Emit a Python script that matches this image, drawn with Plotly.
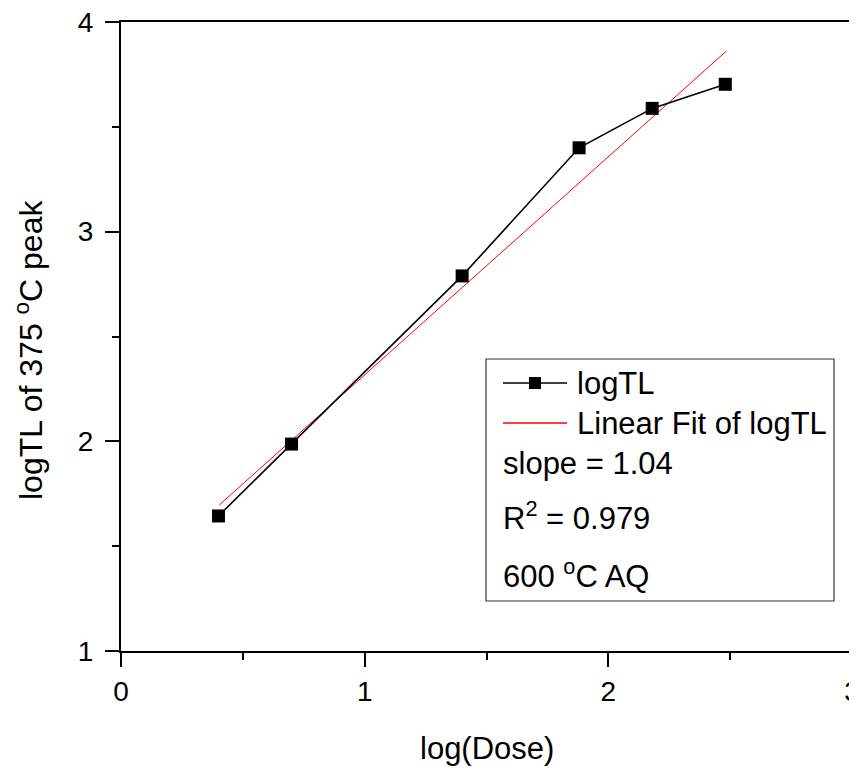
import plotly.graph_objects as go

# data
log_dose = [0.40, 0.70, 1.40, 1.88, 2.18, 2.48]
log_tl = [1.644, 1.987, 2.789, 3.40, 3.588, 3.703]
fit_x = [0.403, 2.486]
fit_y = [1.696, 3.863]
x_ticks = [0, 1, 2, 3]
y_ticks = [1, 2, 3, 4]
legend_series = ["logTL", "Linear Fit of logTL"]
legend_notes = ["slope = 1.04", "R<sup>2</sup> = 0.979", "600 <sup>o</sup>C AQ"]

OFF = 8  # page body margin
W, H = 857 - OFF, 771 - OFF
L, R, T, B = 121 - OFF, 852 - OFF, 22 - OFF, 651 - OFF
FONT = "Liberation Sans, Arial, sans-serif"


def px(xp):
    return (xp - OFF - L) / (R - L)


def py(yp):
    return (B - (yp - OFF)) / (B - T)


fig = go.Figure()
fig.add_trace(go.Scatter(
    x=fit_x, y=fit_y, mode="lines",
    line=dict(color="#ff0000", width=1), showlegend=False))
fig.add_trace(go.Scatter(
    x=log_dose, y=log_tl, mode="lines+markers",
    line=dict(color="black", width=1.6),
    marker=dict(symbol="square", size=13, color="black"),
    showlegend=False))

axis_common = dict(
    showline=True, linecolor="black", linewidth=2, mirror=True,
    ticks="outside", ticklen=14, tickwidth=2, tickcolor="black",
    showgrid=False, zeroline=False, automargin=False,
    ticklabeloverflow="allow",
    tickfont=dict(family=FONT, size=28, color="black"),
    minor=dict(ticks="outside", ticklen=7, tickwidth=2, tickcolor="black", dtick=0.5),
)

fig.update_layout(
    width=W, height=H,
    margin=dict(l=L, r=W - R, t=T, b=H - B, autoexpand=False),
    plot_bgcolor="white", paper_bgcolor="white",
    font=dict(family=FONT, color="black"),
    xaxis=dict(range=[0, 3], tickvals=x_ticks, ticktext=[str(v) for v in x_ticks], **axis_common),
    yaxis=dict(range=[1, 4], tickvals=y_ticks, ticktext=[str(v) for v in y_ticks],
               ticklabelstandoff=6, **axis_common),
)

# axis titles
fig.add_annotation(text="log(Dose)", xref="paper", yref="paper",
                   x=px(486.5), y=py(748), xanchor="center", yanchor="middle",
                   showarrow=False, font=dict(family=FONT, size=31))
fig.add_annotation(text="logTL of 375 <sup>o</sup>C peak", xref="paper", yref="paper",
                   x=px(29), y=py(350), xanchor="center", yanchor="middle", textangle=-90,
                   showarrow=False, font=dict(family=FONT, size=32))

# legend box
fig.add_shape(type="rect", xref="paper", yref="paper",
              x0=px(486), x1=px(834), y0=py(601), y1=py(359),
              line=dict(color="#333333", width=1.2), fillcolor="white", layer="above")
fig.add_shape(type="line", xref="paper", yref="paper",
              x0=px(503), x1=px(567), y0=py(383), y1=py(383),
              line=dict(color="black", width=1.5), layer="above")
fig.add_shape(type="rect", xref="paper", yref="paper",
              x0=px(529), x1=px(541), y0=py(389), y1=py(377),
              line=dict(color="black", width=0), fillcolor="black", layer="above")
fig.add_shape(type="line", xref="paper", yref="paper",
              x0=px(503), x1=px(567), y0=py(423), y1=py(423),
              line=dict(color="#ff0000", width=1.5), layer="above")
for txt, yy in zip(legend_series, [383, 423]):
    fig.add_annotation(text=txt, xref="paper", yref="paper", x=px(575), y=py(yy),
                       xanchor="left", yanchor="middle", showarrow=False,
                       font=dict(family=FONT, size=31))
for txt, yy in zip(legend_notes, [464, 516, 574]):
    fig.add_annotation(text=txt, xref="paper", yref="paper", x=px(501), y=py(yy),
                       xanchor="left", yanchor="middle", showarrow=False,
                       font=dict(family=FONT, size=31))

fig.write_html("out.html")
